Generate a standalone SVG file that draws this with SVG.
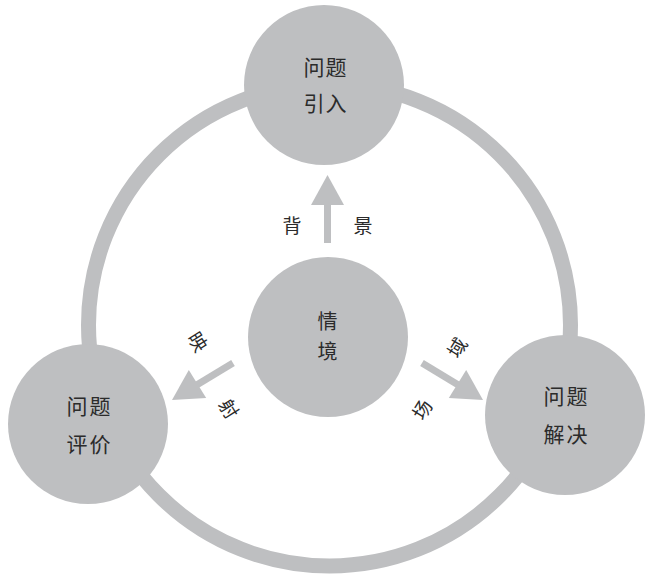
<svg xmlns="http://www.w3.org/2000/svg" width="645" height="579" viewBox="0 0 645 579">
<style>
.node{fill:#bebfc1}
.t{font-family:"Noto Sans CJK SC","Noto Sans CJK TC",sans-serif;font-size:21px;fill:#2b2b2b;text-anchor:middle;dominant-baseline:central}
.c{font-size:20px}
.l{font-family:"Noto Sans CJK SC","Noto Sans CJK TC",sans-serif;font-size:19px;fill:#2b2b2b;text-anchor:middle;dominant-baseline:central}
.shaft{stroke:#bebfc1;stroke-width:7;fill:none}
.head{fill:#bebfc1}
</style>
<rect width="645" height="579" fill="#ffffff"/>
<g id="connectors">
  <circle id="ring" cx="329.5" cy="325" r="241" fill="none" stroke="#bebfc1" stroke-width="15"/>
  <g id="arrow-up">
    <line class="shaft" x1="327.5" y1="243" x2="327.5" y2="203"/>
    <polygon class="head" points="327.5,175 311,205 344,205"/>
  </g>
  <g id="arrow-left">
    <line class="shaft" x1="233" y1="363" x2="195" y2="386"/>
    <polygon class="head" points="172,400 188.8,370 206.2,398"/>
  </g>
  <g id="arrow-right">
    <line class="shaft" x1="422" y1="363" x2="460" y2="386"/>
    <polygon class="head" points="483,400 466.2,370 448.8,398"/>
  </g>
  <text class="l" x="292" y="224">背</text>
  <text class="l" x="363" y="224">景</text>
  <text class="l" transform="translate(199,341) rotate(58)">映</text>
  <text class="l" transform="translate(230,408) rotate(58)">射</text>
  <text class="l" transform="translate(456,347) rotate(-58)">域</text>
  <text class="l" transform="translate(421,409) rotate(-58)">场</text>
</g>
<g id="node-top">
  <circle class="node" cx="324" cy="85" r="80"/>
  <text class="t" x="314 336" y="66">问题</text>
  <text class="t" x="314 336" y="102">引入</text>
</g>
<g id="node-center">
  <circle class="node" cx="328" cy="337" r="80"/>
  <text class="t c" x="327.5" y="320.5">情</text>
  <text class="t c" x="327.5" y="350">境</text>
</g>
<g id="node-left">
  <circle class="node" cx="88" cy="424" r="80"/>
  <text class="t" x="77 100" y="405">问题</text>
  <text class="t" x="77 100" y="443">评价</text>
</g>
<g id="node-right">
  <circle class="node" cx="565" cy="415" r="80"/>
  <text class="t" x="554 577" y="395">问题</text>
  <text class="t" x="554 577" y="433">解决</text>
</g>
</svg>
